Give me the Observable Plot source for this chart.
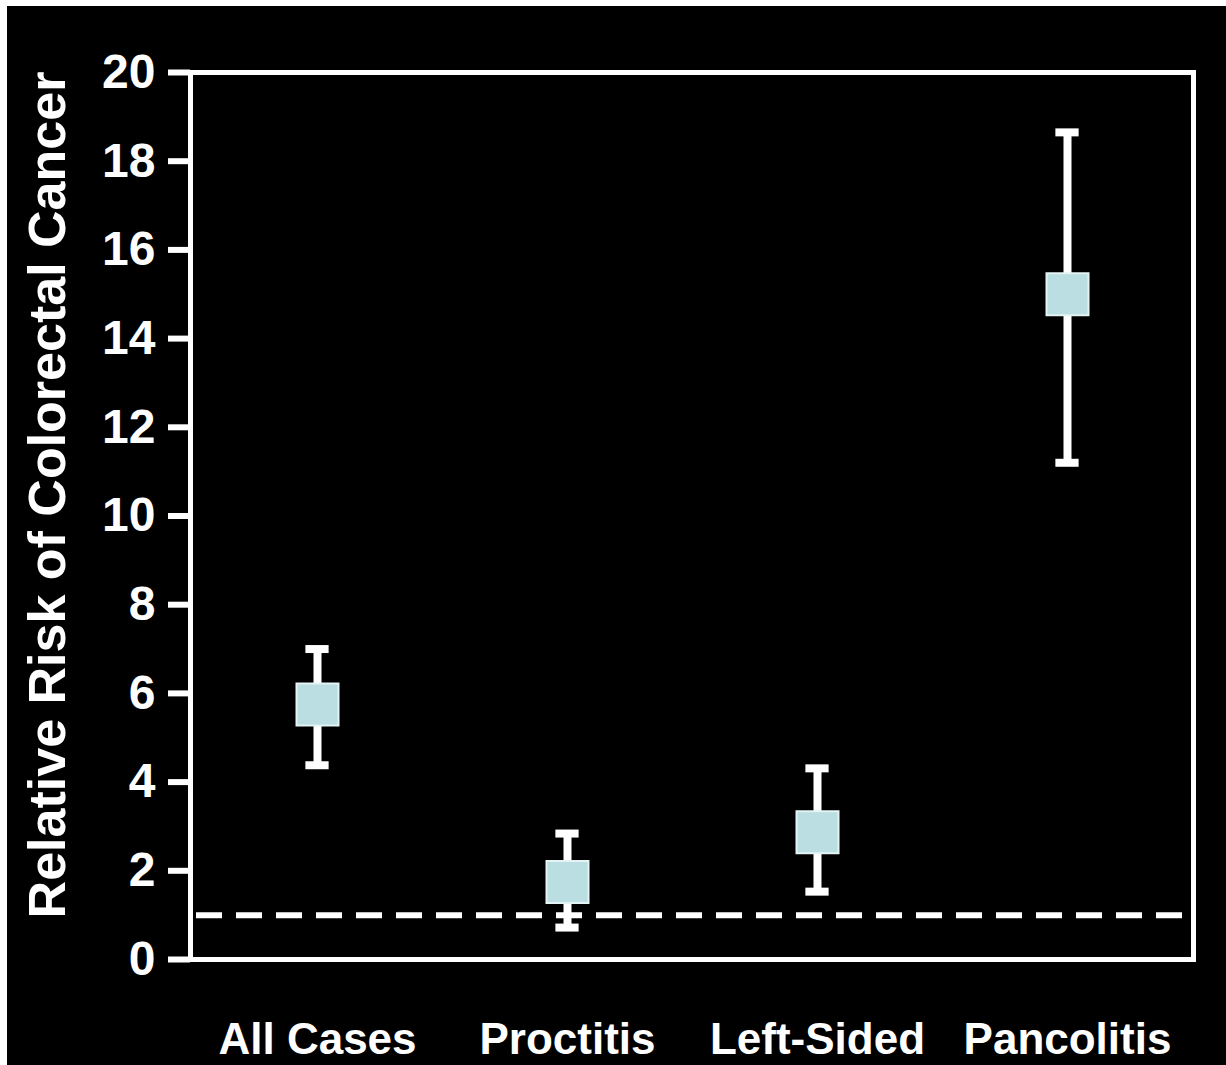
<!DOCTYPE html>
<html>
<head>
<meta charset="utf-8">
<script src="https://cdn.jsdelivr.net/npm/d3@7"></script>
<script src="https://cdn.jsdelivr.net/npm/@observablehq/plot@0.6"></script>
<style>
  html, body { margin: 0; padding: 0; background: #ffffff; }
  #wrap { position: absolute; left: 7px; top: 6px; width: 1219px; height: 1059px; background: #000; overflow: hidden; }
</style>
</head>
<body>
<div id="wrap"></div>
<script>
const categories = ["All Cases", "Proctitis", "Left-Sided", "Pancolitis"];
const relativeRisk = [5.75, 1.75, 2.87, 15.0];
const ciLow = [4.38, 0.72, 1.53, 11.2];
const ciHigh = [7.0, 2.84, 4.31, 18.65];
const yTicks = [0, 2, 4, 6, 8, 10, 12, 14, 16, 18, 20];
const referenceLine = [1];
const yLabel = "Relative Risk of Colorectal Cancer";

const data = categories.map((c, i) => ({cat: c, rr: relativeRisk[i], lo: ciLow[i], hi: ciHigh[i]}));

const W = 1219, H = 1059;
const mL = 183, mR = 33, mT = 66, mB = 106;
const band = (W - mL - mR) / categories.length;
const capW = 24;
const capInset = (band - capW) / 2;
const font = "'Liberation Sans', Arial, Helvetica, sans-serif";

const chart = Plot.plot({
  width: W,
  height: H,
  marginLeft: mL,
  marginRight: mR,
  marginTop: mT,
  marginBottom: mB,
  style: {background: "black", color: "white", fontFamily: font, fontWeight: "bold"},
  x: {type: "band", domain: categories, padding: 0, label: null},
  y: {domain: [0, 20], label: null},
  marks: [
    Plot.ruleY(referenceLine, {stroke: "white", strokeWidth: 6, strokeDasharray: "26,14", insetLeft: 6, insetRight: 4}),
    Plot.ruleX(data, {x: "cat", y1: "lo", y2: "hi", stroke: "white", strokeWidth: 8}),
    Plot.tickY(data, {x: "cat", y: "lo", stroke: "white", strokeWidth: 8, insetLeft: capInset, insetRight: capInset}),
    Plot.tickY(data, {x: "cat", y: "hi", stroke: "white", strokeWidth: 8, insetLeft: capInset, insetRight: capInset}),
    Plot.dot(data, {x: "cat", y: "rr", symbol: "square", r: 42 / Math.sqrt(Math.PI), fill: "#badee1", stroke: "#e4f3f3", strokeWidth: 2}),
    Plot.axisY({ticks: yTicks, tickSize: 22, tickPadding: 13, fontSize: 48, fontWeight: "bold", stroke: "white", strokeWidth: 6, label: null, tickFormat: d => String(d)}),
    Plot.axisX({tickSize: 0, tickPadding: 63, fontSize: 44, fontWeight: "bold", label: null}),
    Plot.text([yLabel], {frameAnchor: "left", textAnchor: "middle", lineAnchor: "middle", dx: -142, dy: -21, rotate: -90, fontSize: 52, fontWeight: "bold", fill: "white", text: d => d}),
    Plot.frame({stroke: "white", strokeWidth: 5})
  ]
});

document.getElementById("wrap").appendChild(chart);
</script>
</body>
</html>
